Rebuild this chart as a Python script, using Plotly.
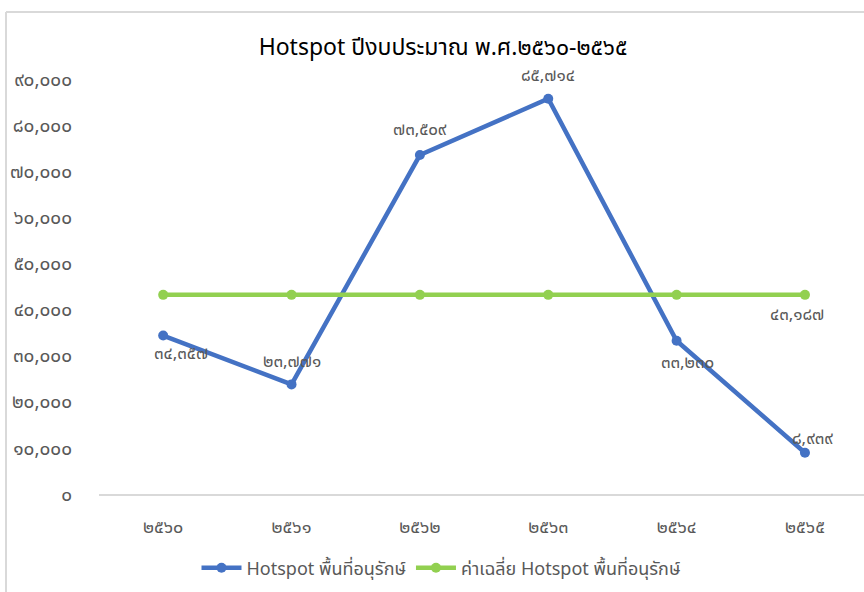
import plotly.graph_objects as go

# ---- data ----
years = [2560, 2561, 2562, 2563, 2564, 2565]
hotspot = [34357, 23771, 73509, 85714, 33230, 8939]
average_value = 43187
y_ticks = [0, 10000, 20000, 30000, 40000, 50000, 60000, 70000, 80000, 90000]

series_name = "Hotspot พื้นที่อนุรักษ์"
avg_name = "ค่าเฉลี่ย Hotspot พื้นที่อนุรักษ์"
title_text = "Hotspot ปีงบประมาณ พ.ศ.๒๕๖๐-๒๕๖๕"

# label offsets (pixels) for data labels
hot_label_shift = [(18, -18), (0, 22), (0, 25), (0, 23), (11, -22), (8, 14)]
avg_label_shift = (-8, -20)

THAI = "๐๑๒๓๔๕๖๗๘๙"


def thai(n):
    s = f"{n:,}"
    return "".join(THAI[int(c)] if c.isdigit() else c for c in s)


cats = [thai(y).replace(",", "") for y in years]
avg = [average_value] * len(years)

BLUE = "#4472C4"
GREEN = "#92D050"
GREY = "#595959"
FONT = "Tahoma, 'Leelawadee UI', 'Noto Sans Thai', 'Noto Sans', sans-serif"
NUM = 18

fig = go.Figure()
fig.add_trace(go.Scatter(
    x=cats, y=hotspot, name=series_name, mode="lines+markers",
    line=dict(color=BLUE, width=4.5), marker=dict(color=BLUE, size=10),
))
fig.add_trace(go.Scatter(
    x=cats, y=avg, name=avg_name, mode="lines+markers",
    line=dict(color=GREEN, width=4.5), marker=dict(color=GREEN, size=10),
))

annotations = []
for c, v, (dx, dy) in zip(cats, hotspot, hot_label_shift):
    annotations.append(dict(x=c, y=v, text=thai(v), showarrow=False,
                            xshift=dx, yshift=dy,
                            font=dict(size=NUM - 1, color=GREY, family=FONT)))
annotations.append(dict(x=cats[-1], y=average_value, text=thai(average_value),
                        showarrow=False, xshift=avg_label_shift[0],
                        yshift=avg_label_shift[1],
                        font=dict(size=NUM - 1, color=GREY, family=FONT)))

L, R, T, B = 99, 0, 79, 98
W, H = 864, 592
pw = W - L - R
ph = H - T - B


def px_x(p):
    return (p - L) / pw


def px_y(p):
    return (H - B - p) / ph


border = "#D9D9D9"
shapes = [
    dict(type="line", xref="paper", yref="paper", x0=px_x(6), x1=px_x(6),
         y0=px_y(12), y1=px_y(600), line=dict(color=border, width=2)),
    dict(type="line", xref="paper", yref="paper", x0=px_x(6), x1=px_x(870),
         y0=px_y(12), y1=px_y(12), line=dict(color=border, width=2)),
]

fig.update_layout(
    width=W, height=H,
    margin=dict(l=L, r=R, t=T, b=B, pad=0),
    paper_bgcolor="white", plot_bgcolor="white",
    font=dict(family=FONT, color=GREY),
    title=dict(text=title_text, x=443 / W, xref="container", xanchor="center",
               y=(H - 47) / H, yref="container", yanchor="middle",
               font=dict(size=23, color="#000000", family=FONT)),
    showlegend=True,
    legend=dict(orientation="h", x=441 / W, xref="container", xanchor="center",
                y=(H - 568) / H, yref="container", yanchor="middle",
                font=dict(size=18, color=GREY, family=FONT),
                itemwidth=40, bgcolor="rgba(0,0,0,0)"),
    xaxis=dict(type="category", range=[-0.5, 5.46], showgrid=False,
               showline=True, linecolor=border, linewidth=1.5,
               ticks="", tickfont=dict(size=NUM, color=GREY, family=FONT),
               ticklabelstandoff=16, zeroline=False, fixedrange=True),
    yaxis=dict(range=[0, 90000], showgrid=False, showline=False,
               zeroline=False, tickvals=y_ticks,
               ticktext=[thai(v) for v in y_ticks],
               tickfont=dict(size=19, color=GREY, family=FONT),
               ticklabelstandoff=26, ticks="", fixedrange=True),
    annotations=annotations,
    shapes=shapes,
)

fig.write_html("out.html", config={"displayModeBar": False},
               post_script="document.body.style.margin='0';")
